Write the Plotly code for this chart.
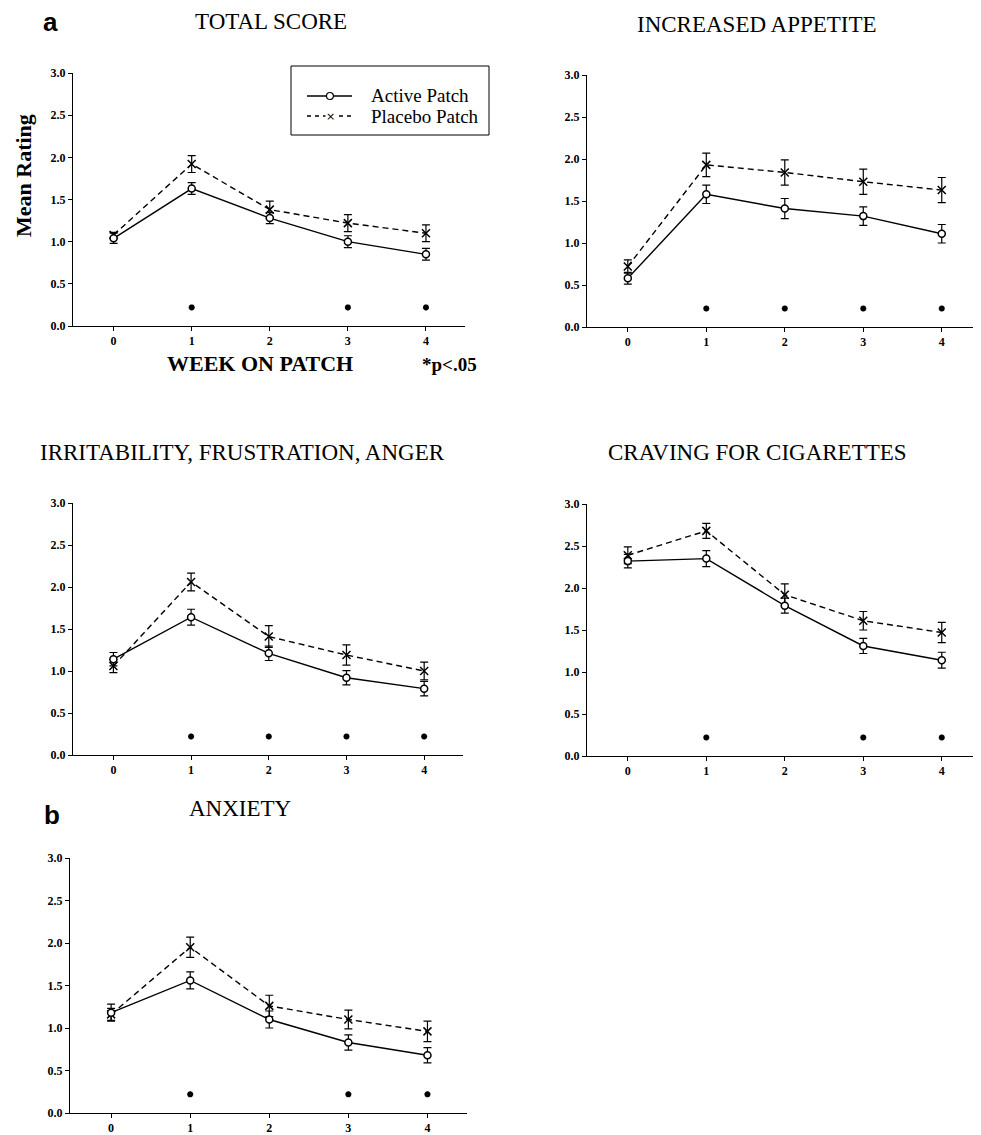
import plotly.graph_objects as go

# ---------------- data ----------------
weeks = [0, 1, 2, 3, 4]
week_labels = ["0", "1", "2", "3", "4"]
y_ticks = [0.0, 0.5, 1.0, 1.5, 2.0, 2.5, 3.0]

titles = ["TOTAL SCORE", "INCREASED APPETITE",
          "IRRITABILITY, FRUSTRATION, ANGER", "CRAVING FOR CIGARETTES", "ANXIETY"]
series_names = ["Active Patch", "Placebo Patch"]

total_active = [1.04, 1.63, 1.28, 1.00, 0.85]
total_active_err = [0.06, 0.07, 0.065, 0.07, 0.07]
total_placebo = [1.08, 1.92, 1.38, 1.22, 1.10]
total_placebo_err = [0.03, 0.10, 0.10, 0.10, 0.10]
total_sig = [1, 3, 4]

appetite_active = [0.58, 1.58, 1.41, 1.32, 1.11]
appetite_active_err = [0.07, 0.11, 0.12, 0.11, 0.11]
appetite_placebo = [0.72, 1.93, 1.84, 1.73, 1.63]
appetite_placebo_err = [0.08, 0.14, 0.15, 0.15, 0.15]
appetite_sig = [1, 2, 3, 4]

irrit_active = [1.14, 1.64, 1.21, 0.92, 0.79]
irrit_active_err = [0.08, 0.095, 0.085, 0.085, 0.085]
irrit_placebo = [1.06, 2.06, 1.41, 1.19, 1.00]
irrit_placebo_err = [0.08, 0.105, 0.13, 0.12, 0.105]
irrit_sig = [1, 2, 3, 4]

craving_active = [2.32, 2.35, 1.79, 1.31, 1.14]
craving_active_err = [0.08, 0.095, 0.09, 0.09, 0.095]
craving_placebo = [2.39, 2.68, 1.92, 1.61, 1.47]
craving_placebo_err = [0.10, 0.09, 0.13, 0.11, 0.12]
craving_sig = [1, 3, 4]

anxiety_active = [1.18, 1.56, 1.10, 0.83, 0.68]
anxiety_active_err = [0.10, 0.10, 0.10, 0.09, 0.09]
anxiety_placebo = [1.16, 1.95, 1.26, 1.10, 0.96]
anxiety_placebo_err = [0.07, 0.12, 0.125, 0.11, 0.12]
anxiety_sig = [1, 3, 4]

sig_level = 0.22

panels = [
    (total_active, total_active_err, total_placebo, total_placebo_err, total_sig),
    (appetite_active, appetite_active_err, appetite_placebo, appetite_placebo_err, appetite_sig),
    (irrit_active, irrit_active_err, irrit_placebo, irrit_placebo_err, irrit_sig),
    (craving_active, craving_active_err, craving_placebo, craving_placebo_err, craving_sig),
    (anxiety_active, anxiety_active_err, anxiety_placebo, anxiety_placebo_err, anxiety_sig),
]

# ---------------- layout geometry (screen pixels) ----------------
W, H = 981, 1135
OFF = 8  # page body margin offsets the figure by this much
boxes = [  # left, right, top, bottom
    (73, 465, 73, 326),
    (587, 981, 75, 327),
    (73, 463, 503, 755),
    (587, 981, 504, 756),
    (70, 467, 858, 1113),
]
title_pos = [(271, 21), (757, 25), (242, 453), (757, 453), (240, 808)]

SERIF = "Liberation Serif"


def px(x, y):
    return (x - OFF) / W, 1 - (y - OFF) / H


fig = go.Figure()

for i, (act, act_e, pla, pla_e, sig) in enumerate(panels):
    ax = "" if i == 0 else str(i + 1)
    xa, ya = "x" + ax, "y" + ax
    fig.add_trace(go.Scatter(
        x=weeks, y=pla, xaxis=xa, yaxis=ya, mode="lines+markers",
        name=series_names[1], showlegend=False,
        line=dict(color="black", width=1.4, dash="6px,4px"),
        marker=dict(symbol="x-thin-open", size=8, color="black",
                    line=dict(color="black", width=1.5)),
        error_y=dict(type="data", array=pla_e, color="black", thickness=1.2, width=4),
    ))
    fig.add_trace(go.Scatter(
        x=weeks, y=act, xaxis=xa, yaxis=ya, mode="lines+markers",
        name=series_names[0], showlegend=False,
        line=dict(color="black", width=1.4),
        marker=dict(symbol="circle", size=7, color="white",
                    line=dict(color="black", width=1.5)),
        error_y=dict(type="data", array=act_e, color="black", thickness=1.2, width=4),
    ))
    fig.add_trace(go.Scatter(
        x=sig, y=[sig_level] * len(sig), xaxis=xa, yaxis=ya, mode="markers",
        showlegend=False, hoverinfo="skip",
        marker=dict(symbol="asterisk-open", size=5, color="black",
                    line=dict(color="black", width=2)),
    ))

    l, r, t, b = boxes[i]
    dl, dt = px(l, t)
    dr, db = px(r, b)
    axis_common = dict(showline=True, linecolor="black", linewidth=1, showgrid=False,
                       zeroline=False, ticks="outside", ticklen=4, tickwidth=1,
                       tickcolor="black", automargin=False, fixedrange=True,
                       tickfont=dict(family=SERIF, size=12, color="black", weight="bold"))
    fig.layout["xaxis" + ax] = dict(
        domain=[dl, min(dr, 1.0)], anchor=ya, range=[-0.52, 4.5],
        tickvals=weeks, ticktext=week_labels, **axis_common)
    fig.layout["yaxis" + ax] = dict(
        domain=[db, dt], anchor=xa, range=[0, 3.0],
        tickvals=y_ticks, tickformat=".1f", **axis_common)

    tx, ty = px(*title_pos[i])
    fig.add_annotation(text=titles[i], x=tx, y=ty, xref="paper", yref="paper",
                       xanchor="center", yanchor="middle", showarrow=False,
                       font=dict(family=SERIF, size=23, color="black"))

# other texts
for lbl, (lx, ly) in (("a", (50, 22)), ("b", (52, 815))):
    ax_, ay_ = px(lx, ly)
    fig.add_annotation(text=lbl, x=ax_, y=ay_, xref="paper", yref="paper",
                       showarrow=False, xanchor="center", yanchor="middle",
                       font=dict(family="Liberation Sans", size=26, color="black", weight="bold"))

ax_, ay_ = px(260, 363)
fig.add_annotation(text="WEEK ON PATCH", x=ax_, y=ay_, xref="paper", yref="paper",
                   showarrow=False, xanchor="center", yanchor="middle",
                   font=dict(family=SERIF, size=22, color="black", weight="bold"))
ax_, ay_ = px(449, 365)
fig.add_annotation(text="*p<.05", x=ax_, y=ay_, xref="paper", yref="paper",
                   showarrow=False, xanchor="center", yanchor="middle",
                   font=dict(family=SERIF, size=19, color="black", weight="bold"))
ax_, ay_ = px(24, 176)
fig.add_annotation(text="Mean Rating", x=ax_, y=ay_, xref="paper", yref="paper",
                   showarrow=False, xanchor="center", yanchor="middle", textangle=-90,
                   font=dict(family=SERIF, size=22, color="black", weight="bold"))

# ---------------- legend (drawn manually to match compact layout) ----------------
x0, y0 = px(291, 135)
x1, y1 = px(489, 66)
fig.add_shape(type="rect", xref="paper", yref="paper", x0=x0, x1=x1, y0=y0, y1=y1,
              line=dict(color="black", width=1), fillcolor="white", layer="above")
rows = [96, 116]
for k, ry in enumerate(rows):
    lx0, ly = px(307, ry)
    lx1, _ = px(352, ry)
    fig.add_shape(type="line", xref="paper", yref="paper", x0=lx0, x1=lx1, y0=ly, y1=ly,
                  line=dict(color="black", width=1.3, dash="solid" if k == 0 else "4px,4px"),
                  layer="above")
    tx, ty = px(369, ry)
    fig.add_annotation(text=series_names[k], x=tx, y=ty, xref="paper", yref="paper",
                       showarrow=False, xanchor="left", yanchor="middle",
                       font=dict(family=SERIF, size=19, color="black"))
# legend symbols
cx0, cy0 = px(326.5, 99.5)
cx1, cy1 = px(333.5, 92.5)
fig.add_shape(type="circle", xref="paper", yref="paper", x0=cx0, x1=cx1, y0=cy0, y1=cy1,
              line=dict(color="black", width=1.2), fillcolor="white", layer="above")
mx, my = px(330, 116)
fig.add_annotation(text="×", x=mx, y=my, xref="paper", yref="paper", showarrow=False,
                   xanchor="center", yanchor="middle", bgcolor="white", borderpad=0,
                   font=dict(family="DejaVu Sans", size=11, color="black"))

fig.update_layout(
    width=W, height=H, margin=dict(l=0, r=0, t=0, b=0, pad=0, autoexpand=False),
    paper_bgcolor="white", plot_bgcolor="white",
    showlegend=False,
)

fig.write_html("out.html")
